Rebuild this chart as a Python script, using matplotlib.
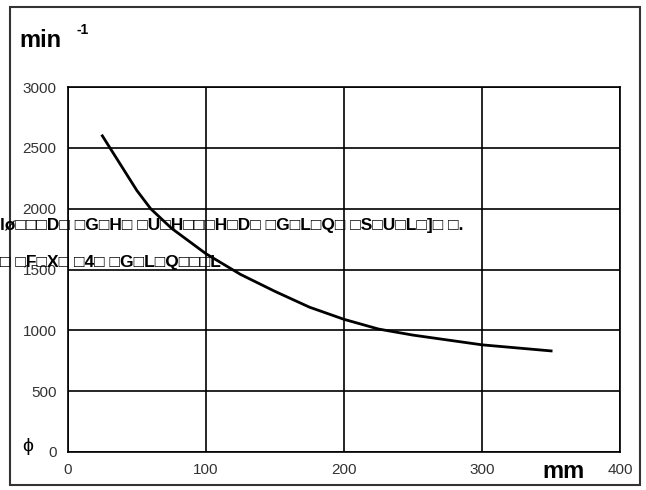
import numpy as np
import matplotlib.pyplot as plt

plt.rcParams['font.family'] = ['Liberation Sans', 'DejaVu Sans']

dia = [25, 35, 50, 60, 75, 100, 125, 150, 175, 200, 225, 250, 300, 350]
rpm = [2600, 2420, 2150, 2000, 1840, 1630, 1460, 1320, 1190, 1090, 1010, 960, 880, 830]
xticks = [0, 100, 200, 300, 400]
yticks = [0, 500, 1000, 1500, 2000, 2500, 3000]

fig = plt.figure(figsize=(6.46, 4.90), dpi=100)
fig.patches.append(plt.Rectangle((0.016, 0.01), 0.975, 0.975, transform=fig.transFigure,
                                 fill=False, edgecolor="#333333", linewidth=1.5))
ax = fig.add_axes([0.105, 0.078, 0.855, 0.744])
ax.plot(dia, rpm, color="black", linewidth=2)
ax.set_xlim(0, 400)
ax.set_ylim(0, 3000)
ax.set_xticks(xticks)
ax.set_yticks(yticks)
ax.grid(True, color="black", linewidth=1.2)
ax.set_axisbelow(True)
for s in ax.spines.values():
    s.set_linewidth(1.2)
ax.tick_params(length=0, labelsize=11, labelcolor="#333333", pad=8)

fig.text(0.03, 0.905, "min", fontsize=17, fontweight="bold")
fig.text(0.118, 0.93, "-1", fontsize=10, fontweight="bold")
fig.text(0.84, 0.025, "mm", fontsize=17, fontweight="bold")
fig.text(0.035, 0.08, "ϕ", fontsize=14)

b = "\u25a1"
fig.text(0.0, 0.53, f"lø{b}{b}{b}D{b} {b}G{b}H{b} {b}U{b}H{b}{b}{b}H{b}D{b} {b}G{b}L{b}Q{b} {b}S{b}U{b}L{b}]{b} {b}.",
         fontsize=12.5, fontweight="bold")
fig.text(0.0, 0.455, f"{b} {b}F{b}X{b} {b}4{b} {b}G{b}L{b}Q{b}{b}{b}L",
         fontsize=12.5, fontweight="bold")

fig.savefig("out.png")
